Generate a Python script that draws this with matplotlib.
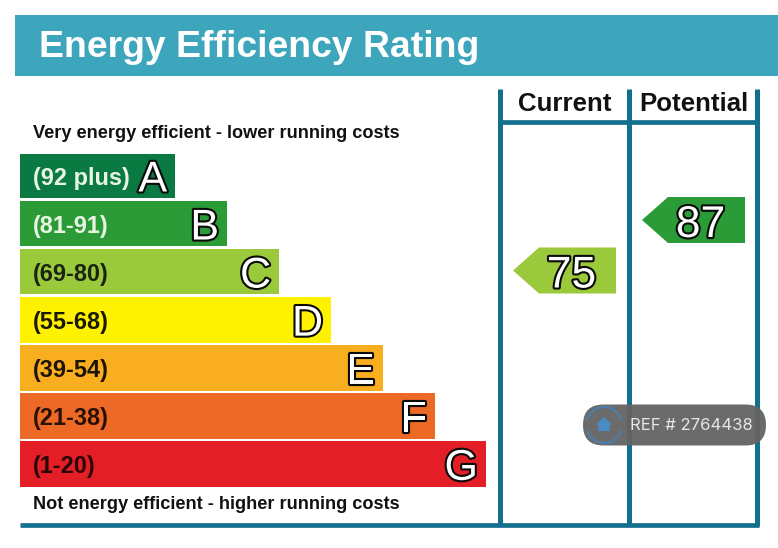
import matplotlib
matplotlib.use("Agg")
import matplotlib.pyplot as plt
from matplotlib.patches import Rectangle, Polygon, FancyBboxPatch, Arc
import matplotlib.patheffects as pe

title = "Energy Efficiency Rating"
top_note = "Very energy efficient - lower running costs"
bottom_note = "Not energy efficient - higher running costs"
bands = ["A", "B", "C", "D", "E", "F", "G"]
ranges = ["(92 plus)", "(81-91)", "(69-80)", "(55-68)", "(39-54)", "(21-38)", "(1-20)"]
lengths = [155, 207, 259, 311, 363, 415, 466]
band_colors = ["#0B7A42", "#2B9B38", "#9BC93C", "#FFF200", "#F8AE1F", "#EC6A25", "#E31E26"]
range_colors = ["#E8F5E4", "#E8F5E4", "#1A2410", "#1A1A00", "#1E1405", "#2A0F05", "#2A0505"]
columns = ["Current", "Potential"]
ratings = [75, 87]
rating_bands = ["C", "B"]
ref_text = "REF # 2764438"

W, H = 778, 548
LINE = "#14708F"
FONT = "Liberation Sans"
fig = plt.figure(figsize=(W / 100, H / 100), dpi=100, facecolor="white")

ax = fig.add_axes([0, 0, 1, 1], zorder=1)
ax.set_xlim(0, W); ax.set_ylim(H, 0); ax.axis("off")

# header
ax.add_patch(Rectangle((15, 15), W - 15, 61, fc="#3DA6BC", ec="none"))
ax.text(39, 57, title, color="white", fontsize=26.9, fontweight="bold", family=FONT, va="baseline", ha="left")
ax.text(33, 138, top_note, color="#111111", fontsize=13.05, fontweight="bold", family=FONT, va="baseline")
ax.text(33, 509, bottom_note, color="#111111", fontsize=13.05, fontweight="bold", family=FONT, va="baseline")

# frame
for x in (500, 629, 757.5):
    ax.plot([x, x], [89, 526], color=LINE, lw=3.6, solid_capstyle="butt")
ax.plot([500, 757.5], [121.5, 121.5], color=LINE, lw=3.4, solid_capstyle="butt")
ax.plot([20, 759.5], [524.5, 524.5], color=LINE, lw=3.4, solid_capstyle="butt")
for x, name in zip((564.5, 694), columns):
    ax.text(x, 111, name, color="#111111", fontsize=18.6, fontweight="bold", family=FONT, ha="center", va="baseline")

# bands on their own axes
bx = fig.add_axes([20 / W, 1 - 488 / H, 466 / W, 334 / H], zorder=2)
bx.set_xlim(0, 466); bx.set_ylim(6.5, -0.45); bx.axis("off")
ypos = list(range(len(bands)))
bx.barh(ypos, lengths, height=0.945, color=band_colors, linewidth=0)
outline = [pe.withStroke(linewidth=3.0, foreground="#0A0A0A")]
for y, n, r, c, L in zip(ypos, bands, ranges, range_colors, lengths):
    bx.text(13, y + 0.19, r, color=c, fontsize=16.9, fontweight="bold", family=FONT, va="baseline")
    bx.text(L - 8, y + 0.33, n, color="white", fontsize=31, family=FONT, ha="right", va="baseline",
            path_effects=outline)

# rating pointers
tips = (513, 642)
for tip, value, band in zip(tips, ratings, rating_bands):
    i = bands.index(band)
    cy = 176.5 + 48 * i - (2 if band == "C" else 4.5)
    pts = [(tip, cy), (tip + 26, cy - 23), (tip + 103, cy - 23), (tip + 103, cy + 23), (tip + 26, cy + 23)]
    ax.add_patch(Polygon(pts, closed=True, fc=band_colors[i], ec="none", zorder=3))
    ax.text(tip + 58.5, cy + 17, str(value), color="white", fontsize=32, family=FONT, ha="center", va="baseline",
            path_effects=outline, zorder=4)

# watermark
wm = fig.add_axes([0, 0, 1, 1], zorder=5)
wm.set_xlim(0, W); wm.set_ylim(H, 0); wm.axis("off"); wm.patch.set_alpha(0)
wm.add_patch(FancyBboxPatch((583, 404.5), 183, 41, boxstyle="round,pad=0,rounding_size=20.5",
                            fc="#636363", ec="none", alpha=0.95))
wm.add_patch(Arc((604, 425), 36, 36, theta1=195, theta2=345, ec="#4A7FAF", lw=1.4))
wm.add_patch(Arc((604, 425), 36, 36, theta1=15, theta2=165, ec="#4A7FAF", lw=1.4))
wm.add_patch(Polygon([(604, 417), (611.5, 424.5), (609.5, 424.5), (609.5, 431), (598.5, 431), (598.5, 424.5), (596.5, 424.5)],
                     closed=True, fc="#4A8CC8", ec="none"))
wm.text(630, 425, ref_text, color="#E6E6E6", fontsize=12, family="Inter", va="center", ha="left")

fig.savefig("out.png", dpi=100)
